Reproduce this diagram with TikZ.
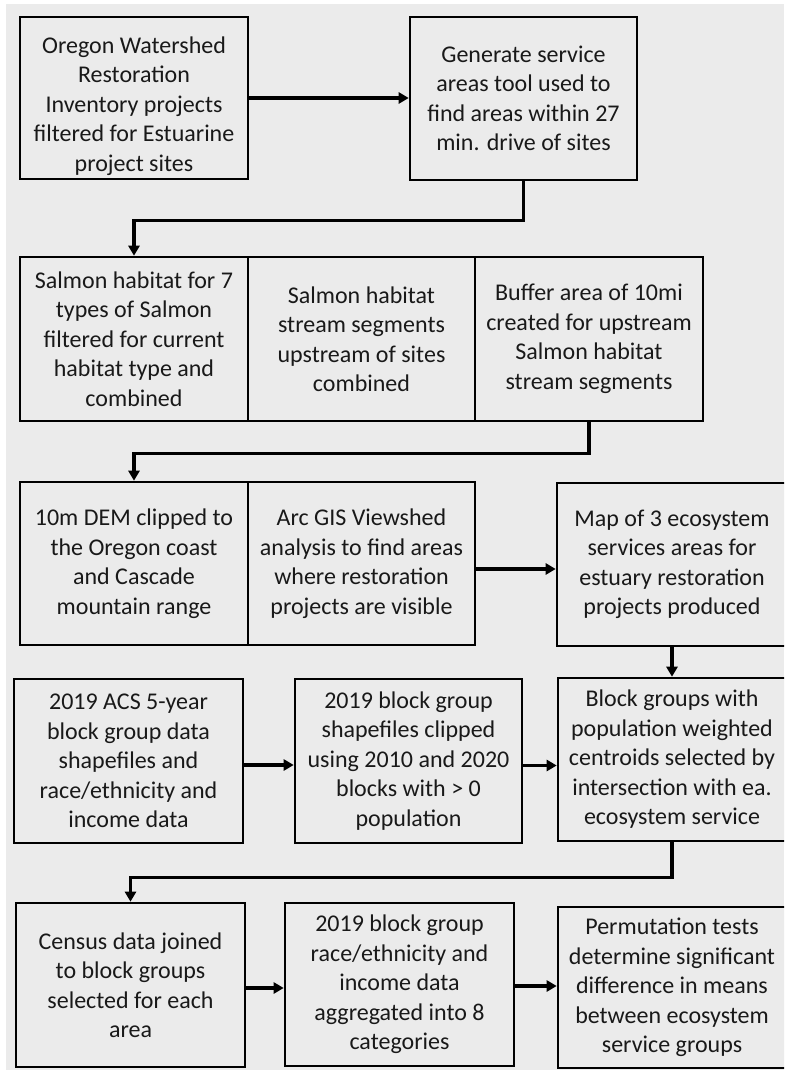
\documentclass[tikz,border=0pt]{standalone}
\usepackage{fontspec}
\setmainfont{Carlito}
\usetikzlibrary{arrows.meta}
\definecolor{bg}{HTML}{EBEBEB}
\tikzset{
  box/.style={draw=black, line width=2.6pt, fill=bg, align=center, inner sep=0pt,
    font=\fontsize{24}{29.5}\selectfont, text=black!90},
  txt/.style={align=center, inner sep=0pt, font=\fontsize{24}{29.5}\selectfont, text=black!90},
  conn/.style={line width=3.6pt, -{Triangle[length=10pt,width=11pt]}},
  elbow/.style={line width=3.6pt, -{Triangle[length=10pt,width=11pt]}}
}
\begin{document}
\begin{tikzpicture}[x=1pt,y=-1pt]
\useasboundingbox (0,0) rectangle (784,1070);
\fill[white] (0,0) rectangle (784,1070);
\clip (0,0) rectangle (784,1070);
\fill[bg] (6,4) rectangle (784,1070);
% row 1
\node[box, minimum width=228pt, minimum height=162pt] (b1) at (134,98) {};
\node[txt] (b1t) at ([yshift=-8pt]b1.center)
  {Oregon Watershed\\Restoration\\Inventory projects\\filtered for Estuarine\\project sites};
\node[box, minimum width=227pt, minimum height=163pt] (b2) at (523.5,98.5)
  {Generate service\\areas tool used to\\find areas within 27\\min. drive of sites};
% row 2
\node[box, minimum width=228pt, minimum height=164pt] (s1) at (134,339)
  {Salmon habitat for 7\\types of Salmon\\filtered for current\\habitat type and\\combined};
\node[box, minimum width=227pt, minimum height=164pt] (s2) at (361.5,339)
  {Salmon habitat\\stream segments\\upstream of sites\\combined};
\node[box, minimum width=228pt, minimum height=164pt] (s3) at (589,339)
  {Buffer area of 10mi\\created for upstream\\Salmon habitat\\stream segments};
% row 3
\node[box, minimum width=228pt, minimum height=163pt] (d1) at (134,563.5)
  {10m DEM clipped to\\the Oregon coast\\and Cascade\\mountain range};
\node[box, minimum width=227pt, minimum height=163pt] (d2) at (361.5,563.5)
  {Arc GIS Viewshed\\analysis to find areas\\where restoration\\projects are visible};
\node[box, minimum width=250pt, minimum height=163pt] (map) at (682,564.5) {};
\node[txt] (mapt) at ([xshift=-10pt]map.center)
  {Map of 3 ecosystem\\services areas for\\estuary restoration\\projects produced};
% row 4
\node[box, minimum width=229pt, minimum height=164pt] (a1) at (128.5,761)
  {2019 ACS 5-year\\block group data\\shapefiles and\\race/ethnicity and\\income data};
\node[box, minimum width=227pt, minimum height=164pt] (a2) at (408.5,761)
  {2019 block group\\shapefiles clipped\\using 2010 and 2020\\blocks with > 0\\population};
\node[box, minimum width=248pt, minimum height=163pt] (a3) at (682,759.5) {};
\node[txt] (a3t) at ([xshift=-10pt]a3.center)
  {Block groups with\\population weighted\\centroids selected by\\intersection with ea.\\ecosystem service};
% row 5
\node[box, minimum width=229pt, minimum height=164pt] (c1) at (130.5,985)
  {Census data joined\\to block groups\\selected for each\\area};
\node[box, minimum width=229pt, minimum height=163pt] (c2) at (399.5,984.5)
  {2019 block group\\race/ethnicity and\\income data\\aggregated into 8\\categories};
\node[box, minimum width=248pt, minimum height=161pt] (c3) at (682,987.5) {};
\node[txt] (c3t) at ([xshift=-10pt]c3.center)
  {Permutation tests\\determine significant\\difference in means\\between ecosystem\\service groups};
% connectors
\draw[conn] (b1.east) -- (b1.east -| b2.west);
\draw[elbow] (b2.south) -- ++(0,39) -| (s1.north);
\draw[elbow] (s3.south) -- ++(0,31) -| (d1.north);
\draw[conn] ([yshift=-5.5pt]d2.east) -- ([yshift=-5.5pt]d2.east -| map.west);
\draw[conn] ([xshift=-10pt]map.south) -- ([xshift=-10pt]a3.north);
\draw[conn] ([yshift=-4pt]a1.east) -- ([yshift=-4pt]a1.east -| a2.west);
\draw[conn] ([yshift=-4.5pt]a2.east) -- ([yshift=-4.5pt]a2.east -| a3.west);
\draw[elbow] ([xshift=-10pt]a3.south) -- ++(0,35) -| (c1.north);
\draw[conn] ([yshift=-3pt]c1.east) -- ([yshift=-3pt]c1.east -| c2.west);
\draw[conn] ([yshift=-1.5pt]c2.east) -- ([yshift=-1.5pt]c2.east -| c3.west);
\end{tikzpicture}
\end{document}
